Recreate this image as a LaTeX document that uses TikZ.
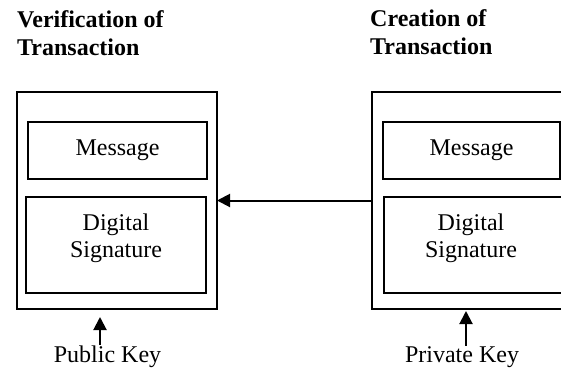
\documentclass[tikz,border=0pt]{standalone}
\usepackage{fontspec}
\setmainfont{Liberation Serif}
\usetikzlibrary{arrows.meta}
\tikzset{
	outbox/.style={draw, line width=2.2pt, inner sep=0pt, outer sep=0pt, anchor=north west},
	inbox/.style={draw, line width=1.5pt, inner sep=0pt, outer sep=0pt, anchor=north west},
	txt/.style={font=\fontsize{24}{27.6}\selectfont, inner sep=0pt, align=center},
	title/.style={font=\fontsize{24}{28}\selectfont\bfseries, inner sep=0pt, align=left, anchor=north west},
	sendarrow/.style={line width=2pt, -{Triangle[length=13pt,width=13pt]}}
}

\begin{document}
\begin{tikzpicture}[x=1pt,y=-1pt]
	%%%%% START %%%%%
	\useasboundingbox (0,0) rectangle (561,370);
	\clip (0,0) rectangle (561,370);
	
	% verification side
	\node[title] (vtitle) at (17,10.5) {Verification of\\Transaction};
	\node[outbox, minimum width=200, minimum height=217] (vbox) at (17,92) {};
	\node[inbox, minimum width=179, minimum height=57] (vmsg) at (28,122) {};
	\node[txt] at (vmsg.center) {Message};
	\node[inbox, minimum width=180, minimum height=96] (vsig) at (26,197) {};
	\node[txt, anchor=north] at ([yshift=-16.5]vsig.north) {Digital\\Signature};
	
	% creation side
	\node[title] (ctitle) at (370,9.5) {Creation of\\Transaction};
	\node[outbox, minimum width=200, minimum height=217] (cbox) at (372,92) {};
	\node[inbox, minimum width=177, minimum height=57] (cmsg) at (383,122) {};
	\node[txt] at (cmsg.center) {Message};
	\node[inbox, minimum width=180, minimum height=96] (csig) at (384,197) {};
	\node[txt, anchor=north] at ([xshift=-3,yshift=-16.5]csig.north) {Digital\\Signature};
	
	\draw[sendarrow] (cbox.west) -- (vbox.east);
	
	% keys
	\node[txt, anchor=base] (pub) at (107.5,362) {Public Key};
	\node[txt, anchor=base] (priv) at (462,362) {Private Key};
	\coordinate (ptip) at (100,317);
	\coordinate (qtip) at (466,311);
	\draw[sendarrow] (ptip |- pub.north) -- (ptip);
	\draw[sendarrow] (qtip |- priv.north) -- (qtip);
	
	%%%%% END %%%%%
\end{tikzpicture}
\end{document}
